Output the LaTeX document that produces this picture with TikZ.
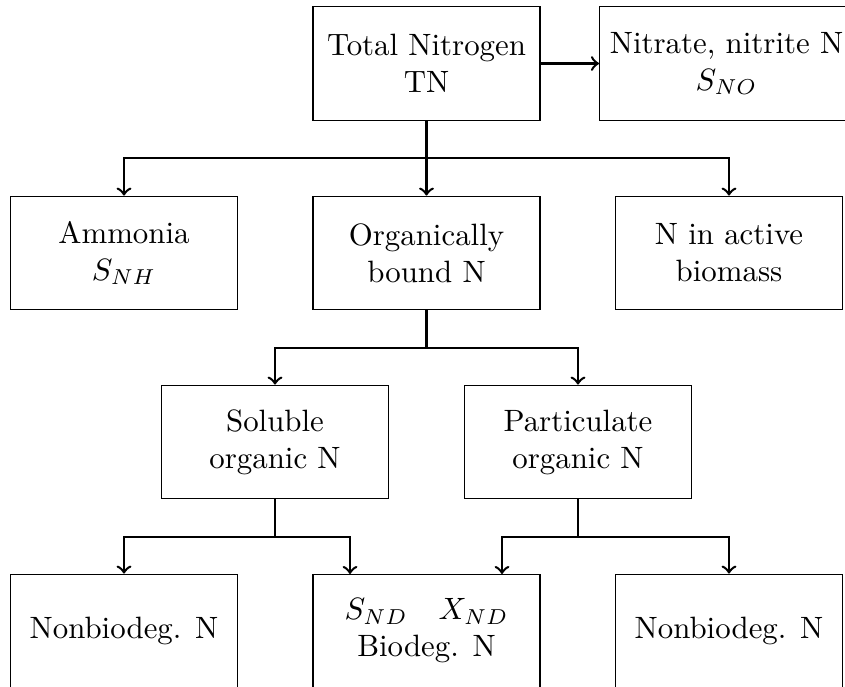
\documentclass[tikz,border=0pt]{standalone}
\usetikzlibrary{calc}
\begin{document}
\begin{tikzpicture}[x=0.324pt,y=-0.324pt,
  box/.style={draw,line width=0.4pt,rectangle,align=center,minimum width=73.5pt,minimum height=36.8pt,inner sep=3.33pt},
  conn/.style={thick,->}]
\useasboundingbox (0,0) rectangle (845,686);
\clip (0,0) rectangle (845,686);
% row 1
\node[box] (tn) at (426.5,63.5) {Total Nitrogen\\TN};
\node[box,anchor=west] (nit) at (599,63.5) {Nitrate, nitrite N\\$S_{NO}$};
% row 2
\node[box] (amm) at (124,253) {Ammonia\\$S_{NH}$};
\node[box] (org) at (426.5,253) {Organically\\bound N};
\node[box] (act) at (729,253) {N in active\\biomass};
% row 3
\node[box] (sol) at (275,442) {Soluble\\organic N};
\node[box] (par) at (578,442) {Particulate\\organic N};
% row 4
\node[box] (nb1) at (124,631) {Nonbiodeg. N};
\node[box] (bio) at (426.5,631) {$S_{ND}$\quad$X_{ND}$\\Biodeg. N};
\node[box] (nb2) at (729,631) {Nonbiodeg. N};
% junctions
\coordinate (j1) at (426.5,158);
\coordinate (j2) at (426.5,348);
\coordinate (j3) at (275,537);
\coordinate (j4) at (578,537);
\coordinate (bioL) at (350,574);
\coordinate (bioR) at (502,574);
% connectors
\draw[conn] (tn.east) -- (nit.west);
\draw[conn] (tn.south) -- (j1) -| (amm.north);
\draw[conn] (j1) -- (org.north);
\draw[conn] (j1) -| (act.north);
\draw[conn] (org.south) -- (j2) -| (sol.north);
\draw[conn] (j2) -| (par.north);
\draw[conn] (sol.south) -- (j3) -| (nb1.north);
\draw[conn] (j3) -| (bioL);
\draw[conn] (par.south) -- (j4) -| (bioR);
\draw[conn] (j4) -| (nb2.north);
\end{tikzpicture}
\end{document}
